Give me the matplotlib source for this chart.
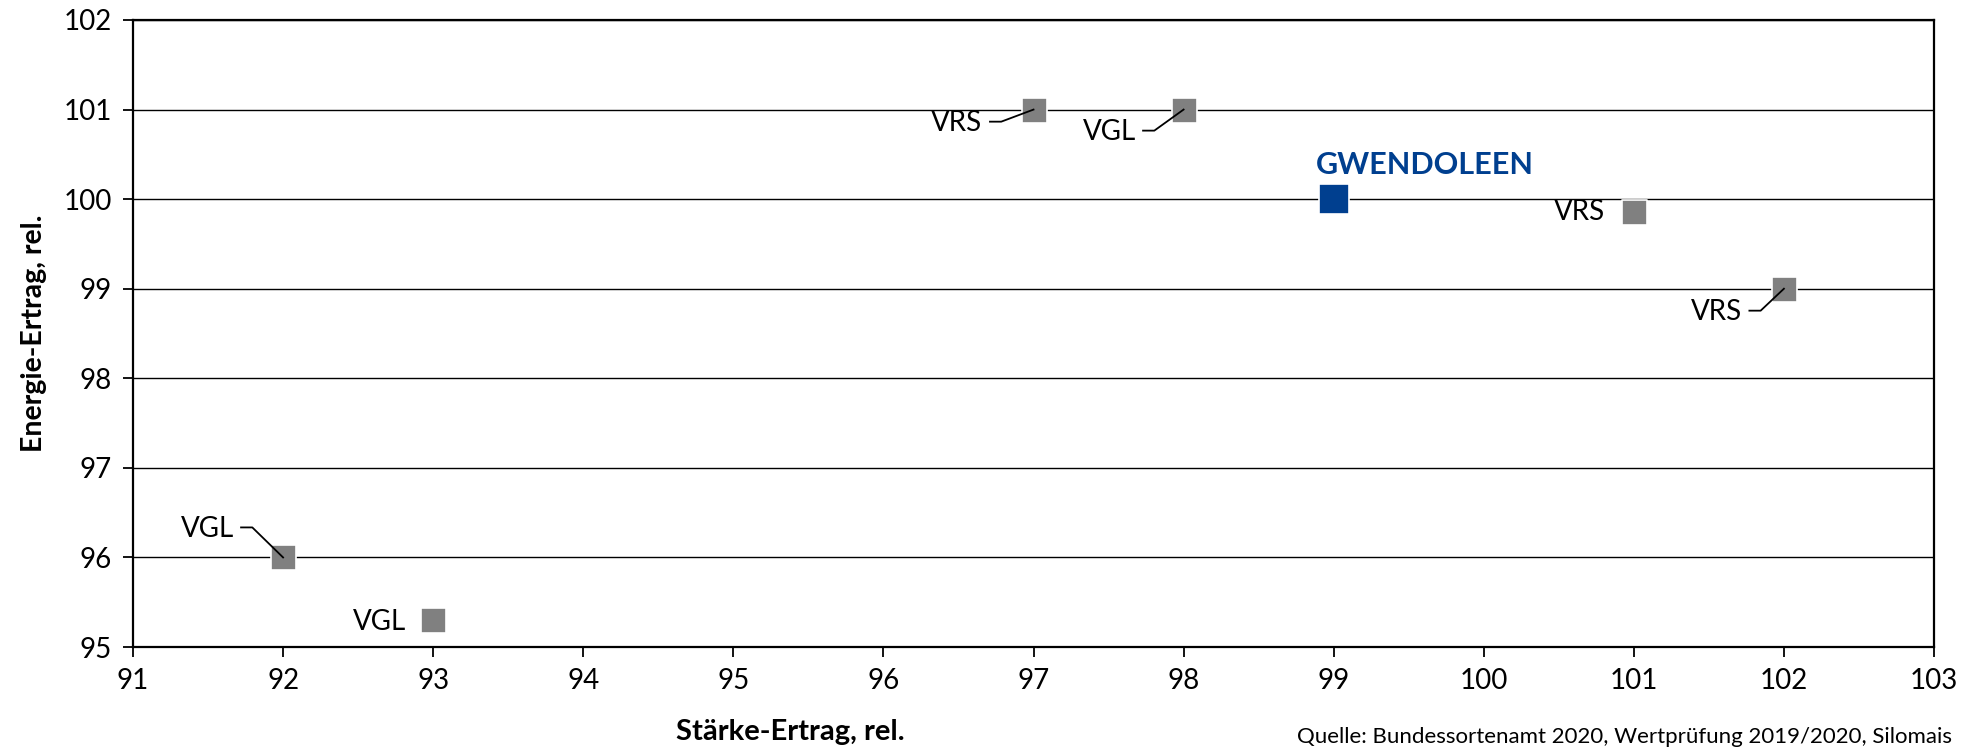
import matplotlib
matplotlib.use('Agg')
import matplotlib.pyplot as plt

plt.rcParams['font.family'] = ['Lato', 'DejaVu Sans']

# data
staerke = [92, 93, 97, 98, 101, 102]
energie = [96, 95.3, 101, 101, 99.86, 99]
labels = ['VGL', 'VGL', 'VRS', 'VGL', 'VRS', 'VRS']
main_name = 'GWENDOLEEN'
main_x = 99
main_y = 100

x_ticks = list(range(91, 104))
y_ticks = list(range(95, 103))

# label placement (data units, relative to the point) and leader flag
label_dx = [-0.50, -0.36, -0.51, -0.49, -0.36, -0.45]
label_dy = [0.32, -0.02, -0.15, -0.25, 0.0, -0.26]
leader = [True, False, True, True, False, True]

grey = '#808080'
blue = '#003F8F'

fig = plt.figure(figsize=(19.65, 7.53), dpi=100)
ax = fig.add_axes([133 / 1965, 1 - 647 / 753, (1934 - 133) / 1965, (647 - 20) / 753])

ax.set_xlim(91, 103)
ax.set_ylim(95, 102)
ax.set_xticks(x_ticks)
ax.set_yticks(y_ticks)
ax.tick_params(axis='both', direction='out', length=7, width=1.3,
               labelsize=20, pad=8, color='black')
ax.yaxis.grid(True, color='black', linewidth=1.0)
ax.set_axisbelow(True)
for sp in ax.spines.values():
    sp.set_linewidth(1.6)
    sp.set_color('black')

ax.scatter(staerke, energie, marker='s', s=18 ** 2, color=grey,
           edgecolors='white', linewidths=1.2, zorder=3)
ax.scatter([main_x], [main_y], marker='s', s=22 ** 2, color=blue,
           edgecolors='white', linewidths=1.2, zorder=3)

for x, y, lab, dx, dy, ld in zip(staerke, energie, labels, label_dx, label_dy, leader):
    tx, ty = x + dx, y + dy
    ax.text(tx, ty, lab, fontsize=20, ha='center', va='center', zorder=4)
    if ld:
        x0 = tx + 0.22
        x1 = x0 + 0.075
        ax.plot([x0, x1, x], [ty + 0.015, ty + 0.015, y], color='black',
                linewidth=1.3, zorder=4)

ax.text(main_x + 0.61, main_y + 0.38, main_name, fontsize=22, fontweight='bold',
        color=blue, ha='center', va='center')

ax.set_ylabel('Energie-Ertrag, rel.', fontsize=20.5, fontweight='bold', labelpad=12)
fig.text(790 / 1965, 1 - 732 / 753, 'Stärke-Ertrag, rel.', fontsize=21,
         fontweight='bold', ha='center', va='center')
fig.text(1952 / 1965, 1 - 737 / 753,
         'Quelle: Bundessortenamt 2020, Wertprüfung 2019/2020, Silomais',
         fontsize=16, ha='right', va='center')

fig.savefig('out.png', dpi=100)
